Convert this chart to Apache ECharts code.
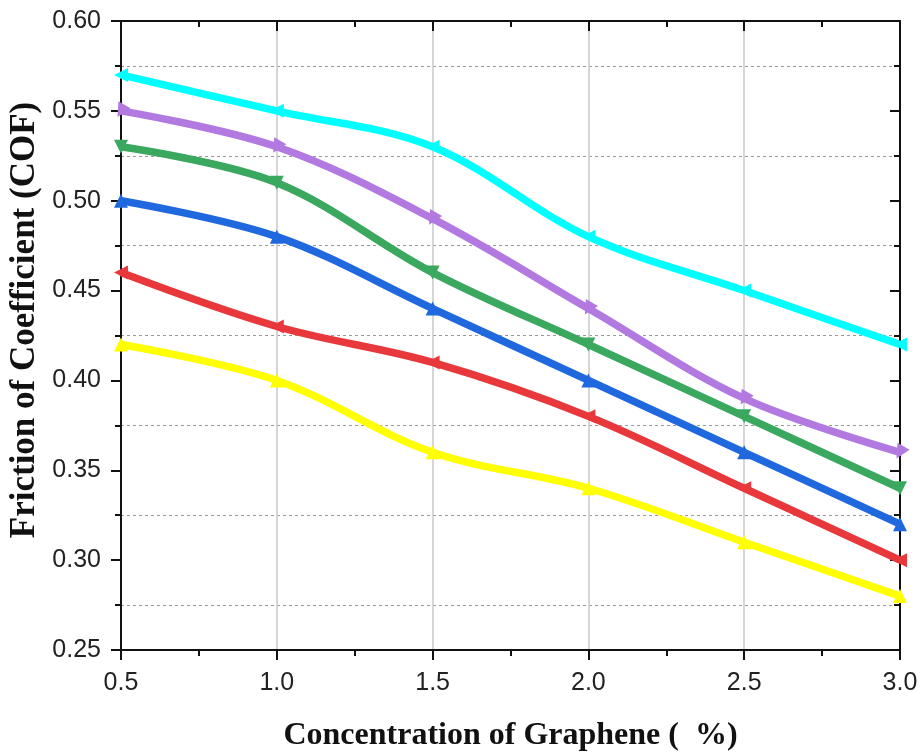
<!DOCTYPE html>
<html>
<head>
<meta charset="utf-8">
<script src="https://cdn.jsdelivr.net/npm/echarts@6/dist/echarts.min.js"></script>
<style>html,body{margin:0;padding:0;background:#fff;}#c{width:921px;height:753px;}</style>
</head>
<body>
<div id="c"></div>
<script>
var categories = [0.5, 1.0, 1.5, 2.0, 2.5, 3.0];
var cyanVals   = [0.57, 0.55, 0.53, 0.48, 0.45, 0.42];
var purpleVals = [0.55, 0.53, 0.49, 0.44, 0.39, 0.36];
var greenVals  = [0.53, 0.51, 0.46, 0.42, 0.38, 0.34];
var blueVals   = [0.50, 0.48, 0.44, 0.40, 0.36, 0.32];
var redVals    = [0.46, 0.43, 0.41, 0.38, 0.34, 0.30];
var yellowVals = [0.42, 0.40, 0.36, 0.34, 0.31, 0.28];
var xTickLabels = ['0.5','1.0','1.5','2.0','2.5','3.0'];
var yTickLabels = ['0.25','0.30','0.35','0.40','0.45','0.50','0.55','0.60'];
var xTitle = 'Concentration of Graphene (  %)';
var yTitle = 'Friction of Coefficient (COF)';

function pairs(vals){ return categories.map(function(x,i){ return [x, vals[i]]; }); }
function mk(name, vals, color, rot){
  return {
    name: name, type: 'line', data: pairs(vals), smooth: 0.35,
    symbol: 'triangle', symbolSize: 14, symbolRotate: rot,
    lineStyle: {color: color, width: 7.5},
    itemStyle: {color: color},
    z: 3
  };
}
var axisFont = {fontFamily: 'Liberation Sans, Arial, sans-serif', fontSize: 25, color: '#222'};
var chart = echarts.init(document.getElementById('c'), null, {renderer: 'canvas'});
chart.setOption({
  animation: false,
  backgroundColor: '#fff',
  grid: {left: 121, right: 21, top: 21, bottom: 103, containLabel: false, outerBoundsMode: 'none'},
  xAxis: [{
    type: 'value', min: 0.5, max: 3.0, interval: 0.5,
    name: xTitle, nameLocation: 'middle', nameGap: 70,
    nameTextStyle: {fontFamily: 'Liberation Serif, Times New Roman, serif', fontWeight: 'bold', fontSize: 32, color: '#111'},
    axisLine: {show: true, lineStyle: {color: '#111', width: 2}},
    axisTick: {show: true, inside: false, length: 10, lineStyle: {color: '#111', width: 2}},
    minorTick: {show: true, splitNumber: 2, length: 6, lineStyle: {color: '#111', width: 2}},
    axisLabel: Object.assign({margin: 21, formatter: function(v){ var i = categories.indexOf(v); return i >= 0 ? xTickLabels[i] : v.toFixed(1); }}, axisFont),
    splitLine: {show: true, lineStyle: {color: '#c8c8c8', width: 1.5}},
    minorSplitLine: {show: false}
  }, {
    type: 'value', position: 'top', min: 0.5, max: 3.0, interval: 0.5,
    axisLine: {show: true, lineStyle: {color: '#111', width: 2}},
    axisTick: {show: true, inside: true, length: 10, lineStyle: {color: '#111', width: 2}},
    minorTick: {show: true, splitNumber: 2, length: 6, lineStyle: {color: '#111', width: 2}},
    axisLabel: {show: false}, splitLine: {show: false}
  }],
  yAxis: [{
    type: 'value', min: 0.25, max: 0.60, interval: 0.05,
    axisLine: {show: true, lineStyle: {color: '#111', width: 2}},
    axisTick: {show: true, inside: false, length: 10, lineStyle: {color: '#111', width: 2}},
    minorTick: {show: true, splitNumber: 2, length: 6, lineStyle: {color: '#111', width: 2}},
    axisLabel: Object.assign({margin: 20, formatter: function(v){ var i = Math.round((v - 0.25) / 0.05); return yTickLabels[i] || v.toFixed(2); }}, axisFont),
    splitLine: {show: false},
    minorSplitLine: {show: true, lineStyle: {color: '#999', width: 1, type: [3, 3]}}
  }, {
    type: 'value', position: 'right', min: 0.25, max: 0.60, interval: 0.05,
    axisLine: {show: true, lineStyle: {color: '#111', width: 2}},
    axisTick: {show: true, inside: true, length: 10, lineStyle: {color: '#111', width: 2}},
    minorTick: {show: true, splitNumber: 2, length: 6, lineStyle: {color: '#111', width: 2}},
    axisLabel: {show: false}, splitLine: {show: false}
  }],
  graphic: [{
    type: 'text', x: 25, y: 320, rotation: Math.PI / 2,
    style: {text: yTitle, fontFamily: 'Liberation Serif, Times New Roman, serif', fontWeight: 'bold', fontSize: 35, fill: '#111', align: 'center', verticalAlign: 'middle'}
  }],
  series: [
    mk('S6', yellowVals, '#ffff00', 0),
    mk('S5', redVals, '#e8383b', 90),
    mk('S4', blueVals, '#1f68de', 0),
    mk('S3', greenVals, '#3aa85f', 180),
    mk('S2', purpleVals, '#b27ae0', 150),
    mk('S1', cyanVals, '#00ffff', 90)
  ]
});
</script>
</body>
</html>
